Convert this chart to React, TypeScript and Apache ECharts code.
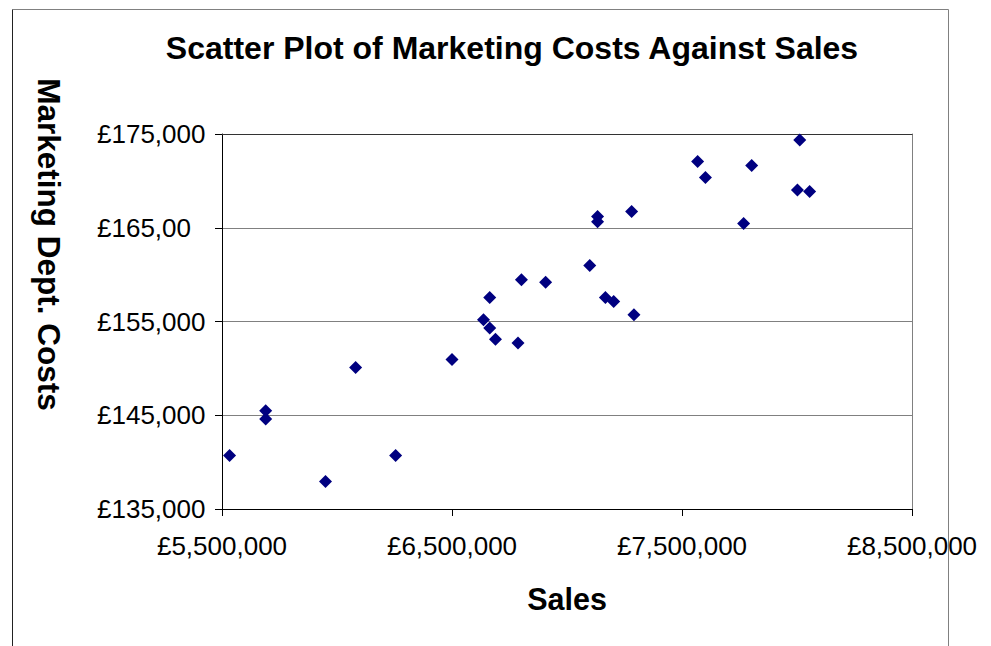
import React, { useEffect, useRef } from "react";
import * as echarts from "echarts";

const titleText = "Scatter Plot of Marketing Costs Against Sales";
const xAxisTitle = "Sales";
const yAxisTitle = "Marketing Dept. Costs";

const xTickLabels: Record<number, string> = {
  5500000: "£5,500,000",
  6500000: "£6,500,000",
  7500000: "£7,500,000",
  8500000: "£8,500,000",
};
const yTickLabels: Record<number, string> = {
  135000: "£135,000",
  145000: "£145,000",
  155000: "£155,000",
  165000: "£165,00",
  175000: "£175,000",
};

const sales = [
  5533000, 5690000, 5690000, 5950000, 6081000, 6255000, 6500000, 6637000,
  6664000, 6689000, 6787000, 6664000, 6802000, 6907000, 7099000, 7167000,
  7203000, 7291000, 7133000, 7133000, 7281000, 7768000, 7568000, 7602000,
  7803000, 8012000, 8002000, 8055000,
];
const costs = [
  140710, 145480, 144590, 137940, 150100, 140710, 150950, 155180,
  154300, 153120, 152700, 157560, 159450, 159200, 160970, 157560,
  157130, 155710, 166190, 165630, 166730, 165450, 172060, 170350,
  171630, 174370, 169040, 168860,
];

const FONT = "'Liberation Sans', Arial, sans-serif";

export default function App() {
  const ref = useRef<HTMLDivElement>(null);
  useEffect(() => {
    if (!ref.current) return;
    const chart = echarts.init(ref.current, undefined, { renderer: "svg" });
    const points = sales.map((s, i) => [s, costs[i]]);
    chart.setOption({
      animation: false,
      backgroundColor: "#ffffff",
      grid: { left: 222, right: 79, top: 134, bottom: 137 },
      graphic: [
        {
          type: "line",
          shape: { x1: 12.5, y1: 9.5, x2: 948.5, y2: 9.5 },
          style: { stroke: "#808080", lineWidth: 1 },
        },
        {
          type: "line",
          shape: { x1: 12.5, y1: 9.5, x2: 12.5, y2: 660 },
          style: { stroke: "#222222", lineWidth: 1 },
        },
        {
          type: "line",
          shape: { x1: 948.5, y1: 9.5, x2: 948.5, y2: 660 },
          style: { stroke: "#808080", lineWidth: 1 },
        },
        {
          type: "text",
          x: 512,
          y: 48,
          style: {
            text: titleText,
            font: `bold 32px ${FONT}`,
            fill: "#000",
            align: "center",
            verticalAlign: "middle",
          },
        },
        {
          type: "text",
          x: 49,
          y: 244.5,
          rotation: -Math.PI / 2,
          style: {
            text: yAxisTitle,
            font: `bold 31.5px ${FONT}`,
            fill: "#000",
            align: "center",
            verticalAlign: "middle",
          },
        },
      ],
      xAxis: [
        {
          type: "value",
          min: 5500000,
          max: 8500000,
          interval: 1000000,
          name: xAxisTitle,
          nameLocation: "middle",
          nameGap: 74,
          nameTextStyle: {
            fontFamily: FONT,
            fontSize: 30.5,
            fontWeight: "bold",
            color: "#000",
          },
          axisLine: { show: true, onZero: false, lineStyle: { color: "#000", width: 1 } },
          axisTick: { show: true, inside: false, length: 7, lineStyle: { color: "#000" } },
          axisLabel: {
            margin: 24,
            fontFamily: FONT,
            fontSize: 26,
            color: "#000",
            formatter: (v: number) => xTickLabels[v] ?? "",
          },
          splitLine: { show: false },
        },
        {
          type: "value",
          position: "top",
          min: 5500000,
          max: 8500000,
          interval: 1000000,
          axisLine: { show: true, onZero: false, lineStyle: { color: "#333", width: 1 } },
          axisTick: { show: false },
          axisLabel: { show: false },
          splitLine: { show: false },
        },
      ],
      yAxis: [
        {
          type: "value",
          min: 135000,
          max: 175000,
          interval: 10000,
          axisLine: { show: true, onZero: false, lineStyle: { color: "#000", width: 1 } },
          axisTick: { show: true, inside: false, length: 7, lineStyle: { color: "#000" } },
          axisLabel: {
            margin: 125,
            align: "left",
            fontFamily: FONT,
            fontSize: 26,
            color: "#000",
            formatter: (v: number) => yTickLabels[v] ?? "",
          },
          splitLine: { show: true, lineStyle: { color: "#808080", width: 1 } },
        },
        {
          type: "value",
          position: "right",
          min: 135000,
          max: 175000,
          interval: 10000,
          axisLine: { show: true, onZero: false, lineStyle: { color: "#808080", width: 1 } },
          axisTick: { show: false },
          axisLabel: { show: false },
          splitLine: { show: false },
        },
      ],
      series: [
        {
          type: "scatter",
          xAxisIndex: 0,
          yAxisIndex: 0,
          symbol: "diamond",
          symbolSize: 13,
          itemStyle: { color: "#000080", opacity: 1 },
          data: points,
        },
      ],
    });
    return () => chart.dispose();
  }, []);
  return (
    <div
      ref={ref}
      style={{ position: "fixed", left: 0, top: 0, width: 991, height: 646, background: "#fff" }}
    />
  );
}
